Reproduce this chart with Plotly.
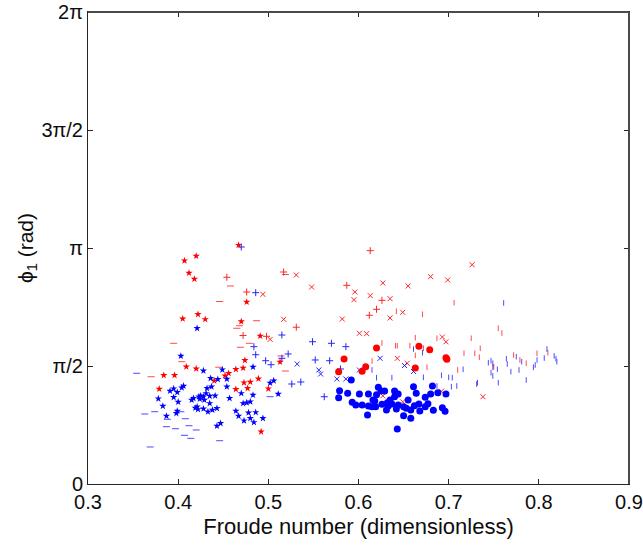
import numpy as np
import plotly.graph_objects as go

# ---------------- data ----------------
red_star_x = [0.467, 0.420, 0.407, 0.412, 0.418, 0.476, 0.405, 0.422, 0.430, 0.470, 0.491, 0.474,
              0.409, 0.420, 0.384, 0.396, 0.464, 0.472, 0.452, 0.440, 0.456, 0.489, 0.473, 0.480,
              0.379, 0.464, 0.477, 0.500, 0.513, 0.492]
red_star_y = [3.18, 3.035, 2.973, 2.809, 2.729, 2.423, 2.200, 2.259, 2.192, 2.163, 1.970, 1.647,
              1.561, 1.535, 1.447, 1.447, 1.527, 1.544, 1.442, 1.375, 1.474, 1.402, 1.349, 1.358,
              1.265, 1.261, 1.274, 1.269, 1.624, 0.696]

blue_star_x = [0.421, 0.403, 0.428, 0.449, 0.483, 0.436, 0.454, 0.444,
               0.391, 0.395, 0.399, 0.404, 0.406, 0.395, 0.400, 0.378, 0.383, 0.387, 0.398, 0.399,
               0.415, 0.417, 0.419, 0.422, 0.423,
               0.424, 0.428, 0.431, 0.429, 0.435, 0.441, 0.435, 0.421, 0.428, 0.433, 0.438, 0.443,
               0.425, 0.432, 0.437, 0.454, 0.457, 0.464, 0.467, 0.472, 0.476, 0.480, 0.483, 0.470,
               0.478, 0.486, 0.473, 0.480, 0.484, 0.494, 0.443, 0.447, 0.511, 0.506, 0.502]
blue_star_y = [2.073, 1.704, 1.508, 1.522, 1.558, 1.407, 1.398, 1.394,
               1.238, 1.269, 1.221, 1.282, 1.305, 1.154, 1.092, 1.136, 1.038, 0.905, 0.941, 0.972,
               1.118, 1.141, 1.012, 0.994, 1.162,
               1.132, 1.162, 1.207, 1.118, 1.171, 1.175, 1.074, 1.029, 1.002, 0.962, 0.985, 1.008,
               1.175, 1.274, 1.295, 1.295, 1.141, 0.972, 0.905, 1.074, 1.082, 1.096, 1.185, 1.207,
               0.949, 0.954, 0.843, 0.875, 0.821, 0.875, 0.772, 0.808, 1.198, 1.375, 1.345]

blue_dash_x = [0.354, 0.363, 0.374, 0.388, 0.387, 0.397, 0.408, 0.403, 0.412, 0.407, 0.414,
               0.420, 0.369, 0.446, 0.502]
blue_dash_y = [1.474, 0.932, 0.962, 0.861, 0.763, 0.736, 0.869, 0.962, 0.776, 0.648, 0.608,
               0.719, 0.493, 0.576, 1.162]

red_dash_x = [0.395, 0.404, 0.370, 0.446, 0.458, 0.487, 0.468, 0.465, 0.469, 0.479, 0.445,
              0.519, 0.514, 0.519]
red_dash_y = [1.873, 1.628, 1.428, 2.429, 2.636, 2.174, 2.107, 2.073, 1.820, 1.873, 1.554,
              2.789, 1.704, 1.504]

red_plus_x = [0.454, 0.476, 0.472, 0.498, 0.517, 0.613, 0.587, 0.626, 0.620, 0.612, 0.531]
red_plus_y = [2.752, 2.556, 1.977, 1.966, 2.822, 3.106, 2.645, 2.445, 2.326, 2.246, 2.087]

blue_plus_x = [0.470, 0.486, 0.484, 0.486, 0.497, 0.503, 0.515, 0.522, 0.549, 0.570, 0.586,
               0.515, 0.552, 0.568, 0.580, 0.526, 0.536, 0.562]
blue_plus_y = [3.155, 2.547, 1.828, 1.721, 1.641, 1.588, 1.983, 1.731, 1.894, 1.873, 1.828,
               1.673, 1.651, 1.641, 1.531, 1.331, 1.358, 1.162]

red_x_x = [0.494, 0.517, 0.502, 0.531, 0.548, 0.596, 0.595, 0.613, 0.627, 0.635, 0.655, 0.680,
           0.699, 0.726, 0.649, 0.635, 0.582, 0.601, 0.609, 0.693, 0.697, 0.643, 0.654, 0.627,
           0.649, 0.692, 0.738]
red_x_y = [2.525, 2.192, 1.926, 2.782, 2.622, 2.556, 2.453, 2.507, 2.676, 2.467, 2.636, 2.760,
           2.716, 2.919, 2.286, 2.210, 2.196, 2.006, 2.001, 1.957, 1.893, 1.673, 1.607, 1.174,
           1.094, 1.235, 1.162]

blue_x_x = [0.624, 0.532, 0.556, 0.558, 0.601, 0.651, 0.661, 0.576, 0.586]
blue_x_y = [1.673, 1.597, 1.518, 1.464, 1.518, 1.577, 1.498, 1.398, 1.398]

red_dot_x = [0.620, 0.584, 0.608, 0.604, 0.578, 0.667, 0.679, 0.663, 0.697, 0.698]
red_dot_y = [1.810, 1.664, 1.561, 1.500, 1.495, 1.833, 1.788, 1.544, 1.681, 1.660]

red_bar_x = [0.706, 0.671, 0.642, 0.626, 0.641, 0.643, 0.657, 0.663, 0.672, 0.687, 0.725, 0.717,
             0.729, 0.734, 0.710, 0.676, 0.663, 0.615, 0.755, 0.759, 0.735, 0.750, 0.772, 0.779,
             0.786, 0.798, 0.810]
red_bar_y = [2.413, 2.259, 2.299, 1.877, 1.841, 1.841, 1.841, 1.948, 1.806, 1.940, 1.940, 1.740,
             1.740, 1.687, 1.518, 1.554, 1.713, 1.637, 2.073, 2.010, 1.806, 1.561, 1.717, 1.651,
             1.607, 1.740, 1.748]

blue_bar_x = [0.661, 0.671, 0.615, 0.620, 0.637, 0.672, 0.692, 0.700, 0.704, 0.716, 0.687, 0.703,
              0.709, 0.731, 0.761, 0.744, 0.747, 0.749, 0.749, 0.754, 0.747, 0.749, 0.732, 0.755,
              0.764, 0.765, 0.769, 0.775, 0.778, 0.781, 0.786, 0.794, 0.796, 0.798, 0.806, 0.809,
              0.817, 0.819, 0.820]
blue_bar_y = [1.797, 1.748, 1.518, 1.415, 1.415, 1.420, 1.447, 1.420, 1.415, 1.527, 1.305, 1.295,
              1.305, 1.331, 2.410, 1.615, 1.641, 1.607, 1.554, 1.527, 1.482, 1.438, 1.349, 1.349,
              1.668, 1.597, 1.495, 1.695, 1.518, 1.628, 1.384, 1.554, 1.584, 1.651, 1.677, 1.797,
              1.704, 1.668, 1.628]

blue_dot_x = [0.592, 0.579, 0.578, 0.588, 0.601, 0.611, 0.622, 0.625, 0.629, 0.620, 0.640, 0.644,
              0.640, 0.635, 0.593, 0.597, 0.604, 0.611, 0.616, 0.618, 0.615, 0.619, 0.626, 0.632,
              0.633, 0.637, 0.644, 0.650, 0.655, 0.661, 0.664, 0.674, 0.680, 0.682, 0.688, 0.697,
              0.662, 0.667, 0.677, 0.674, 0.653, 0.658, 0.668, 0.683, 0.693, 0.696, 0.631, 0.642,
              0.610, 0.650, 0.658, 0.643]
blue_dot_y = [1.384, 1.242, 1.149, 1.207, 1.198, 1.198, 1.287, 1.238, 1.238, 1.189, 1.238, 1.198,
              1.162, 1.118, 1.088, 1.052, 1.052, 1.038, 1.118, 1.105, 1.029, 1.029, 1.061, 1.082,
              1.038, 1.065, 1.052, 1.029, 1.118, 1.295, 1.207, 1.154, 1.198, 1.305, 1.215, 1.198,
              1.042, 1.065, 1.069, 1.029, 1.008, 0.985, 0.972, 0.981, 1.016, 0.968, 0.985, 0.998,
              0.919, 0.909, 0.875, 0.732]

y_tick_vals = [0, np.pi / 2, np.pi, 3 * np.pi / 2, 2 * np.pi]
y_tick_text = ["0", "π/2", "π", "3π/2", "2π"]
x_tick_vals = [0.3, 0.4, 0.5, 0.6, 0.7, 0.8, 0.9]
x_tick_text = ["0.3", "0.4", "0.5", "0.6", "0.7", "0.8", "0.9"]

RED = "#ff0000"
BLUE = "#0000ff"

fig = go.Figure()

def add(xs, ys, symbol, color, size, lw=1.0, opacity=1.0):
    fig.add_trace(go.Scatter(
        x=xs, y=ys, mode="markers", showlegend=False, opacity=opacity, hoverinfo="skip",
        marker=dict(symbol=symbol, size=size, color=color,
                    line=dict(width=lw, color=color))))

add(blue_dash_x, blue_dash_y, "line-ew", BLUE, 5, 1.0, 0.7)
add(red_dash_x, red_dash_y, "line-ew", RED, 5, 1.0, 0.7)
add(red_bar_x, red_bar_y, "line-ns", RED, 4, 1.0, 0.7)
add(blue_bar_x, blue_bar_y, "line-ns", BLUE, 4, 1.0, 0.7)
add(red_plus_x, red_plus_y, "cross-thin", RED, 5, 1.0, 0.85)
add(blue_plus_x, blue_plus_y, "cross-thin", BLUE, 5, 1.0, 0.85)
add(red_x_x, red_x_y, "x-thin", RED, 5, 1.0, 0.85)
add(blue_x_x, blue_x_y, "x-thin", BLUE, 5, 1.0, 0.85)
add(red_star_x, red_star_y, "star", RED, 5.5, 0)
add(blue_star_x, blue_star_y, "star", BLUE, 5.5, 0)
add(red_dot_x, red_dot_y, "circle", RED, 7, 0)
add(blue_dot_x, blue_dot_y, "circle", BLUE, 7, 0)

FONT = "Liberation Sans, Arial, sans-serif"

fig.update_layout(
    width=643, height=550,
    margin=dict(l=88, r=14, t=12, b=66),
    paper_bgcolor="white", plot_bgcolor="white",
    font=dict(family=FONT, size=20, color="#0d0d0d"),
    xaxis=dict(range=[0.3, 0.9], tickvals=x_tick_vals, ticktext=x_tick_text, automargin=False,
               showgrid=False, zeroline=False, showline=True, linecolor="#262626", linewidth=1,
               mirror="ticks", ticks="inside", ticklen=5, tickcolor="#262626",
               title=dict(text="Froude number (dimensionless)", font=dict(size=22), standoff=6)),
    yaxis=dict(range=[0, 2 * np.pi], tickvals=y_tick_vals, ticktext=y_tick_text, automargin=False,
               showgrid=False, zeroline=False, showline=True, linecolor="#262626", linewidth=1,
               mirror="ticks", ticks="inside", ticklen=5, tickcolor="#262626",
               title=dict(text="ϕ<sub>1</sub> (rad)", font=dict(size=21), standoff=2)),
    shapes=[
        dict(type="line", xref="paper", yref="paper", x0=0, x1=1, y0=1, y1=1,
             line=dict(color="#4a4a4a", width=2)),
        dict(type="line", xref="paper", yref="paper", x0=1, x1=1, y0=0, y1=1,
             line=dict(color="#4a4a4a", width=2)),
    ],
)

fig.write_html("out.html", config={"displayModeBar": False},
               post_script="document.body.style.margin='0';document.body.style.overflow='hidden';")
